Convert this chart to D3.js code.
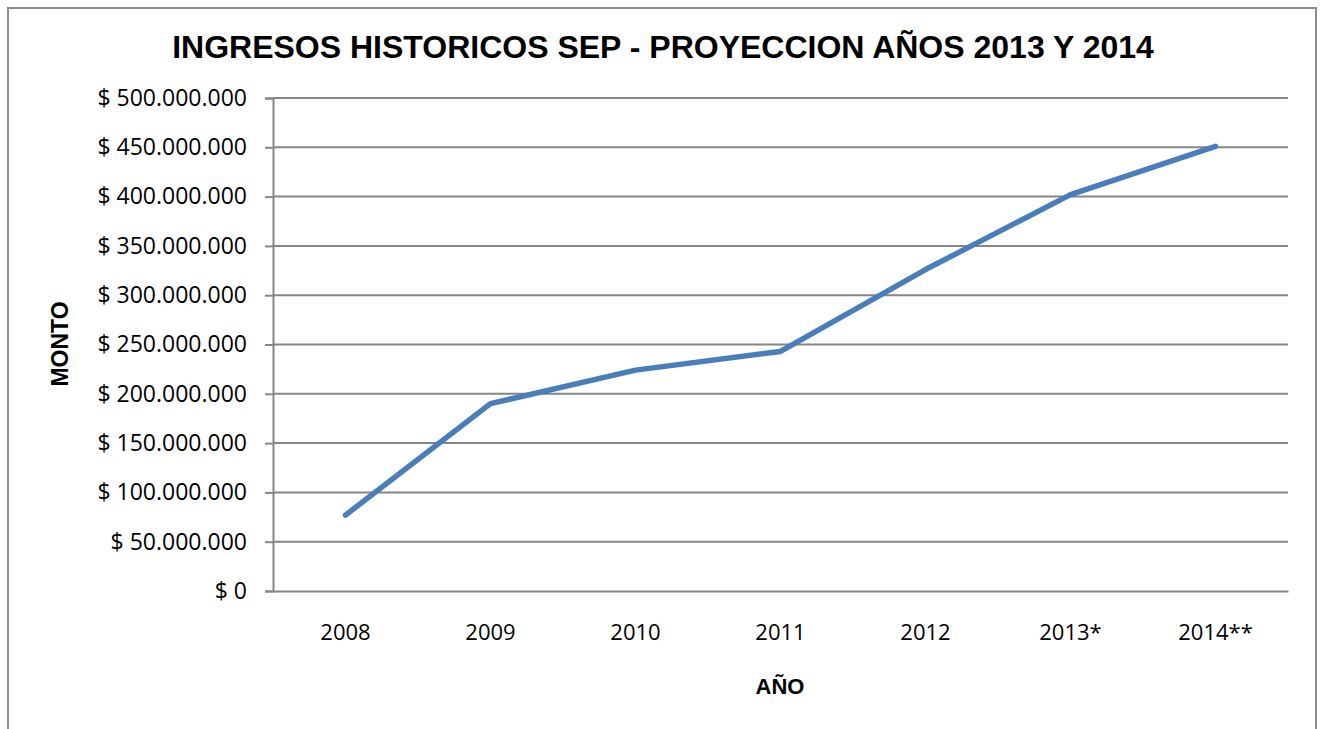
<!DOCTYPE html>
<html>
<head>
<meta charset="utf-8">
<script src="https://cdn.jsdelivr.net/npm/d3@7"></script>
<style>
  body { margin: 0; background: #fff; }
  svg { display: block; }
</style>
</head>
<body>
<svg id="chart" width="1321" height="729"></svg>
<script>
// datos
const years = ["2008", "2009", "2010", "2011", "2012", "2013*", "2014**"];
const ingresos = [77000000, 190000000, 224000000, 243000000, 326000000, 402000000, 451000000];
const yTicks = [0, 50000000, 100000000, 150000000, 200000000, 250000000, 300000000, 350000000, 400000000, 450000000, 500000000];

const titulo = "INGRESOS HISTORICOS SEP - PROYECCION AÑOS 2013 Y 2014";
const tituloX = "AÑO";
const tituloY = "MONTO";

const svg = d3.select("#chart");
const margin = { left: 273, right: 1321 - 1288, top: 98, bottom: 729 - 591 };
const gris = "#868686";
const tickFont = "'Open Sans', sans-serif";

// marco del grafico
svg.append("rect")
    .attr("x", 8).attr("y", 8)
    .attr("width", 1308).attr("height", 740)
    .attr("fill", "none")
    .attr("stroke", "#8c8c8c")
    .attr("stroke-width", 2);

const x = d3.scaleBand()
    .domain(years)
    .range([margin.left, 1321 - margin.right]);

const y = d3.scaleLinear()
    .domain([0, 500000000])
    .range([729 - margin.bottom, margin.top]);

// formato "$ 500.000.000"
const fmt = d => "$ " + d3.format(",.0f")(d).replace(/,/g, ".");

// lineas de cuadricula
svg.append("g")
    .selectAll("line")
    .data(yTicks.slice(1))
    .join("line")
    .attr("x1", margin.left).attr("x2", 1321 - margin.right)
    .attr("y1", d => y(d)).attr("y2", d => y(d))
    .attr("stroke", gris)
    .attr("stroke-width", 2);

// eje Y
const yAxis = svg.append("g")
    .attr("transform", `translate(${margin.left},0)`)
    .call(d3.axisLeft(y).tickValues(yTicks).tickFormat(fmt).tickSize(8).tickPadding(18));
yAxis.select(".domain").attr("stroke", gris).attr("stroke-width", 2);
yAxis.selectAll(".tick line").attr("stroke", gris).attr("stroke-width", 2);
yAxis.selectAll("text")
    .attr("font-family", tickFont)
    .attr("font-size", 23)
    .attr("fill", "#000");

// eje X
const xAxis = svg.append("g")
    .attr("transform", `translate(0,${y(0)})`)
    .call(d3.axisBottom(x).tickSize(0).tickPadding(33));
xAxis.select(".domain").attr("stroke", gris).attr("stroke-width", 2);
xAxis.selectAll("text")
    .attr("font-family", tickFont)
    .attr("font-size", 22)
    .attr("fill", "#000");

// serie
const line = d3.line()
    .x((d, i) => x(years[i]) + x.bandwidth() / 2)
    .y(d => y(d));

svg.append("path")
    .datum(ingresos)
    .attr("d", line)
    .attr("fill", "none")
    .attr("stroke", "#4a7ebb")
    .attr("stroke-width", 5.5)
    .attr("stroke-linejoin", "round")
    .attr("stroke-linecap", "round");

// titulos
svg.append("text")
    .attr("x", 663).attr("y", 58)
    .attr("text-anchor", "middle")
    .attr("font-family", "'Liberation Sans', Arial, sans-serif")
    .attr("font-weight", "bold")
    .attr("font-size", 32)
    .text(titulo);

svg.append("text")
    .attr("x", 780).attr("y", 694)
    .attr("text-anchor", "middle")
    .attr("font-family", "'Liberation Sans', Arial, sans-serif")
    .attr("font-weight", "bold")
    .attr("font-size", 22)
    .text(tituloX);

svg.append("text")
    .attr("transform", "translate(68,344) rotate(-90)")
    .attr("text-anchor", "middle")
    .attr("font-family", "'Liberation Sans', Arial, sans-serif")
    .attr("font-weight", "bold")
    .attr("font-size", 23)
    .text(tituloY);
</script>
</body>
</html>
